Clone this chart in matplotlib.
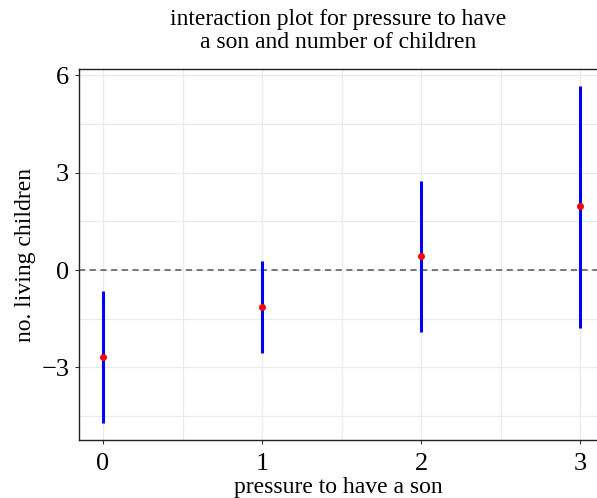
import matplotlib.pyplot as plt
import numpy as np

plt.rcParams['font.family'] = ['Liberation Serif', 'DejaVu Serif']

# pressure to have a son levels and estimated effects
pressure = [0, 1, 2, 3]
effect = [-2.68, -1.13, 0.43, 1.98]
lower = [-4.73, -2.57, -1.92, -1.80]
upper = [-0.64, 0.29, 2.74, 5.67]

fig = plt.figure(figsize=(5.97, 4.98), dpi=100)
ax = fig.add_axes([79 / 597, 58 / 498, 518 / 597, 371 / 498])

ax.set_xticks(np.arange(-0.5, 3.6, 0.5), minor=True)
ax.set_yticks(np.arange(-4.5, 6.1, 1.5), minor=True)
ax.grid(True, which='both', color='#ebebeb', lw=0.9)
ax.set_axisbelow(True)

ax.axhline(0, color='#555555', ls='--', lw=1.1, dashes=(4, 3))
ax.vlines(pressure, lower, upper, color='blue', lw=2.2, zorder=3)
ax.plot(pressure, effect, 'o', color='red', ms=4, zorder=4)

ax.set_xlim(-0.151, 3.106)
ax.set_ylim(-5.24, 6.2)
ax.set_xticks(pressure)
ax.set_yticks([-3, 0, 3, 6])
ax.set_yticklabels(['\u22123', '0', '3', '6'])
ax.tick_params(which='minor', length=0)
ax.tick_params(which='major', direction='out', length=3, width=0.8, color='#333333', labelsize=19)
ax.tick_params(axis='x', pad=6)
ax.tick_params(axis='y', pad=4)

ax.spines['right'].set_visible(False)
for s in ['top', 'left', 'bottom']:
    ax.spines[s].set_color('#222222')
    ax.spines[s].set_linewidth(1.0)

ax.set_xlabel('pressure to have a son', fontsize=17, labelpad=2)
ax.set_ylabel('no. living children', fontsize=17, labelpad=4)
ax.set_title('interaction plot for pressure to have\na son and number of children',
             fontsize=17, pad=15, linespacing=1.12)

fig.savefig('out.png', dpi=100)
